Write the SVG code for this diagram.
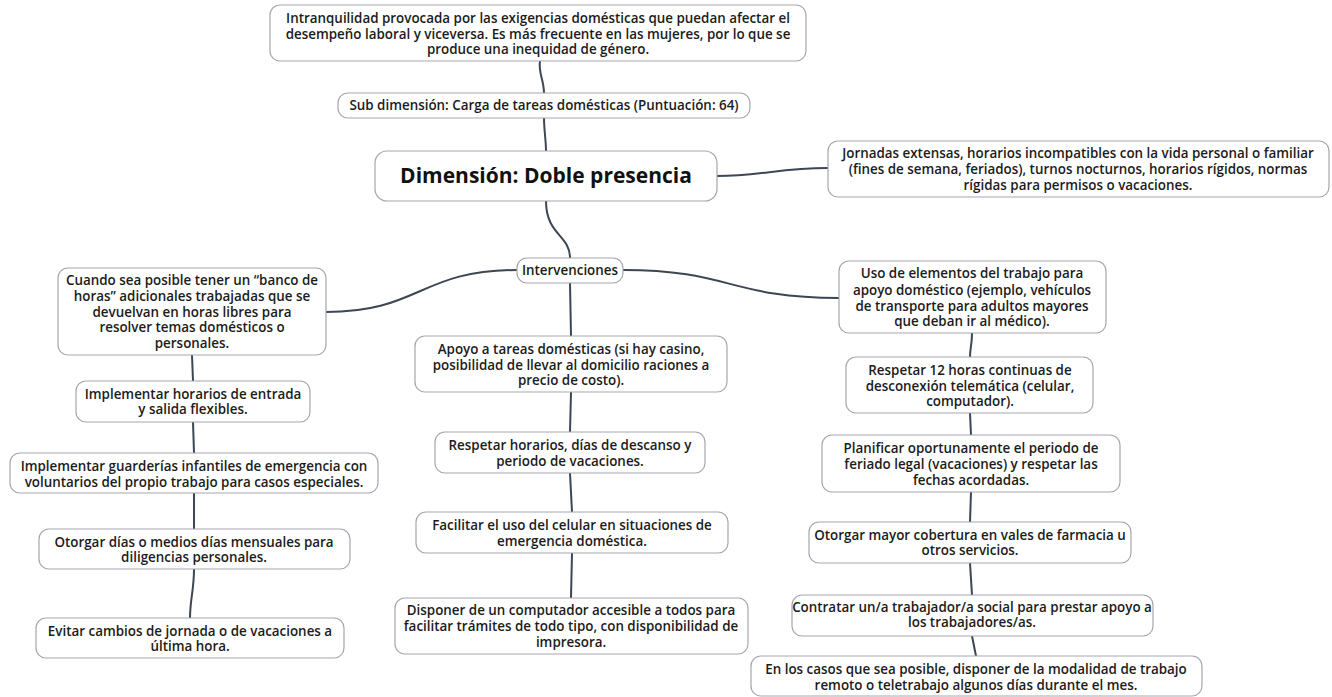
<svg xmlns="http://www.w3.org/2000/svg" width="1332" height="697" viewBox="0 0 1332 697">
<style>
  .box { fill: #ffffff; stroke: #a3a7ad; stroke-width: 1.2; }
  .t { font-family: "Open Sans", "Liberation Sans", sans-serif; font-size: 13.4px; font-weight: 600; fill: #1b1b1b; text-anchor: middle; }
  .title { font-family: "Open Sans", "Liberation Sans", sans-serif; font-size: 21px; font-weight: bold; fill: #111111; text-anchor: middle; }
  .link { fill: none; stroke: #3c4654; stroke-width: 2; stroke-linecap: round; }
</style>
<rect width="1332" height="697" fill="#ffffff"/>

<g id="connectors">
  <path class="link" d="M540 61 C538 72 544 80 544 93"/>
  <path class="link" d="M544 118 C544 130 546 140 546 151"/>
  <path class="link" d="M717 176 C760 176 780 168 828 168"/>
  <path class="link" d="M546 201 C546 235 570 235 570 258"/>
  <path class="link" d="M517 270 C420 270 420 312 326 312"/>
  <path class="link" d="M623 270 C730 270 730 298 839 298"/>
  <path class="link" d="M570 283 L571 336"/>
  <path class="link" d="M571 392 L570 432"/>
  <path class="link" d="M570 473 L572 512"/>
  <path class="link" d="M572 553 L571 598"/>
  <path class="link" d="M192 355 L193 381"/>
  <path class="link" d="M193 422 L194 453"/>
  <path class="link" d="M194 493 L194 529"/>
  <path class="link" d="M194 569 C194 590 190 600 190 618"/>
  <path class="link" d="M972 333 C972 345 970 348 970 357"/>
  <path class="link" d="M970 413 L971 435"/>
  <path class="link" d="M971 492 L970 522"/>
  <path class="link" d="M970 563 L972 595"/>
  <path class="link" d="M972 636 L976 656"/>
</g>

<g id="n-top">
  <rect class="box" x="270" y="5" width="536" height="56" rx="10"/>
  <text class="t" x="538" y="23">Intranquilidad provocada por las exigencias domésticas que puedan afectar el</text>
  <text class="t" x="538" y="39">desempeño laboral y viceversa. Es más frecuente en las mujeres, por lo que se</text>
  <text class="t" x="538" y="54">produce una inequidad de género.</text>
</g>

<g id="n-sub">
  <rect class="box" x="338" y="93" width="412" height="25" rx="10"/>
  <text class="t" x="544" y="110">Sub dimensión: Carga de tareas domésticas (Puntuación: 64)</text>
</g>

<g id="n-main">
  <rect class="box" x="375" y="151" width="342" height="50" rx="12"/>
  <text class="title" x="546" y="183">Dimensión: Doble presencia</text>
</g>

<g id="n-jornadas">
  <rect class="box" x="828" y="141" width="501" height="56" rx="10"/>
  <text class="t" x="1078" y="158">Jornadas extensas, horarios incompatibles con la vida personal o familiar</text>
  <text class="t" x="1078" y="174">(fines de semana, feriados), turnos nocturnos, horarios rígidos, normas</text>
  <text class="t" x="1078" y="190">rígidas para permisos o vacaciones.</text>
</g>

<g id="n-intervenciones">
  <rect class="box" x="517" y="258" width="106" height="25" rx="10"/>
  <text class="t" x="570" y="275">Intervenciones</text>
</g>

<g id="n-banco">
  <rect class="box" x="58" y="268" width="268" height="87" rx="10"/>
  <text class="t" x="192" y="285">Cuando sea posible tener un “banco de</text>
  <text class="t" x="192" y="301">horas” adicionales trabajadas que se</text>
  <text class="t" x="192" y="317">devuelvan en horas libres para</text>
  <text class="t" x="192" y="332">resolver temas domésticos o</text>
  <text class="t" x="192" y="348">personales.</text>
</g>

<g id="n-flexibles">
  <rect class="box" x="76" y="381" width="234" height="41" rx="10"/>
  <text class="t" x="193" y="399">Implementar horarios de entrada</text>
  <text class="t" x="193" y="414">y salida flexibles.</text>
</g>

<g id="n-guarderias">
  <rect class="box" x="10" y="453" width="368" height="40" rx="10"/>
  <text class="t" x="194" y="471">Implementar guarderías infantiles de emergencia con</text>
  <text class="t" x="194" y="487">voluntarios del propio trabajo para casos especiales.</text>
</g>

<g id="n-dias">
  <rect class="box" x="39" y="529" width="311" height="40" rx="10"/>
  <text class="t" x="194" y="547">Otorgar días o medios días mensuales para</text>
  <text class="t" x="194" y="562">diligencias personales.</text>
</g>

<g id="n-evitar">
  <rect class="box" x="36" y="618" width="308" height="40" rx="10"/>
  <text class="t" x="190" y="636">Evitar cambios de jornada o de vacaciones a</text>
  <text class="t" x="190" y="651">última hora.</text>
</g>

<g id="n-apoyo">
  <rect class="box" x="415" y="336" width="312" height="56" rx="10"/>
  <text class="t" x="571" y="354">Apoyo a tareas domésticas (si hay casino,</text>
  <text class="t" x="571" y="370">posibilidad de llevar al domicilio raciones a</text>
  <text class="t" x="571" y="385">precio de costo).</text>
</g>

<g id="n-respetar">
  <rect class="box" x="435" y="432" width="270" height="41" rx="10"/>
  <text class="t" x="570" y="450">Respetar horarios, días de descanso y</text>
  <text class="t" x="570" y="466">periodo de vacaciones.</text>
</g>

<g id="n-celular">
  <rect class="box" x="416" y="512" width="312" height="41" rx="10"/>
  <text class="t" x="572" y="530">Facilitar el uso del celular en situaciones de</text>
  <text class="t" x="572" y="546">emergencia doméstica.</text>
</g>

<g id="n-computador">
  <rect class="box" x="395" y="598" width="353" height="56" rx="10"/>
  <text class="t" x="571" y="615">Disponer de un computador accesible a todos para</text>
  <text class="t" x="571" y="631">facilitar trámites de todo tipo, con disponibilidad de</text>
  <text class="t" x="571" y="647">impresora.</text>
</g>

<g id="n-uso">
  <rect class="box" x="839" y="261" width="267" height="72" rx="10"/>
  <text class="t" x="972" y="278">Uso de elementos del trabajo para</text>
  <text class="t" x="972" y="295">apoyo doméstico (ejemplo, vehículos</text>
  <text class="t" x="972" y="311">de transporte para adultos mayores</text>
  <text class="t" x="972" y="326">que deban ir al médico).</text>
</g>

<g id="n-desconexion">
  <rect class="box" x="846" y="357" width="247" height="56" rx="10"/>
  <text class="t" x="970" y="375">Respetar 12 horas continuas de</text>
  <text class="t" x="970" y="391">desconexión telemática (celular,</text>
  <text class="t" x="970" y="406">computador).</text>
</g>

<g id="n-planificar">
  <rect class="box" x="822" y="435" width="298" height="57" rx="10"/>
  <text class="t" x="971" y="453">Planificar oportunamente el periodo de</text>
  <text class="t" x="971" y="469">feriado legal (vacaciones) y respetar las</text>
  <text class="t" x="971" y="485">fechas acordadas.</text>
</g>

<g id="n-farmacia">
  <rect class="box" x="809" y="522" width="322" height="41" rx="10"/>
  <text class="t" x="970" y="540">Otorgar mayor cobertura en vales de farmacia u</text>
  <text class="t" x="970" y="555">otros servicios.</text>
</g>

<g id="n-social">
  <rect class="box" x="792" y="595" width="361" height="41" rx="10"/>
  <text class="t" x="972" y="612">Contratar un/a trabajador/a social para prestar apoyo a</text>
  <text class="t" x="972" y="627">los trabajadores/as.</text>
</g>

<g id="n-remoto">
  <rect class="box" x="751" y="656" width="451" height="40" rx="10"/>
  <text class="t" x="976" y="674">En los casos que sea posible, disponer de la modalidad de trabajo</text>
  <text class="t" x="976" y="690">remoto o teletrabajo algunos días durante el mes.</text>
</g>
</svg>
